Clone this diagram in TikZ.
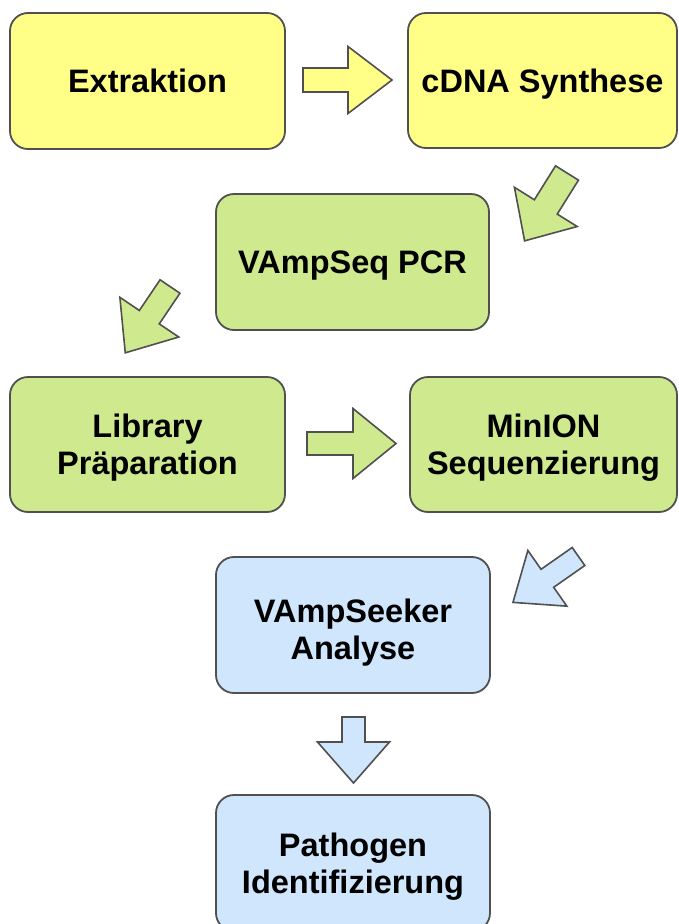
\documentclass[tikz,border=0pt]{standalone}
\usepackage{fontspec}
\setmainfont{Liberation Sans}
\definecolor{yel}{HTML}{FFFF88}
\definecolor{grn}{HTML}{CFEA8E}
\definecolor{blu}{HTML}{CFE6FD}
\definecolor{edge}{HTML}{505050}
\tikzset{
  box/.style={draw=edge, line width=1.8pt, rounded corners=18pt, align=center,
    inner sep=0pt, text depth=0pt, font=\fontsize{32.5}{37}\selectfont\bfseries},
  ybox/.style={box, fill=yel},
  gbox/.style={box, fill=grn},
  bbox/.style={box, fill=blu},
  barr/.style={draw=edge, line width=1.6pt, line join=miter}
}
% #1 tail centre, #2 angle, #3 length, #4 head length, #5 shaft half, #6 head half, #7 fill
\newcommand{\blockarr}[7]{%
  \begin{scope}[shift={(#1)}, rotate=#2]
    \draw[barr, fill=#7] (0,-#5) -- ({#3-#4},-#5) -- ({#3-#4},-#6) -- (#3,0)
      -- ({#3-#4},#6) -- ({#3-#4},#5) -- (0,#5) -- cycle;
  \end{scope}}
\begin{document}
\begin{tikzpicture}[x=1pt, y=-1pt]
  \useasboundingbox (0,0) rectangle (679,924);
  \clip (0,0) rectangle (679,924);
  \fill[white] (0,0) rectangle (679,924);
  % boxes
  \node[ybox, minimum width=275pt, minimum height=136pt] (ext) at (147.5,81) {Extraktion};
  \node[ybox, minimum width=269pt, minimum height=135pt] (cdna) at (542.5,80.5) {cDNA Synthese};
  \node[gbox, minimum width=273pt, minimum height=136pt] (pcr) at (352.5,262) {VAmpSeq PCR};
  \node[gbox, minimum width=275pt, minimum height=135pt] (lib) at (147.5,444.5) {Library\\Präparation};
  \node[gbox, minimum width=267pt, minimum height=135pt] (min) at (543.5,444.5) {MinION\\Sequenzierung};
  \node[bbox, text height=68pt, minimum width=274pt, minimum height=136pt] (vas) at (353,625) {VAmpSeeker\\Analyse};
  \node[bbox, minimum width=274pt, minimum height=136pt] (pat) at (353,863) {Pathogen\\Identifizierung};
  % arrow tails
  \coordinate (a1) at (303,80);
  \coordinate (a2) at (567,173);
  \coordinate (a3) at (170,286.5);
  \coordinate (a4) at (307,443.5);
  \coordinate (a5) at (578.5,556.5);
  \coordinate (a6) at (353.5,717);
  % block arrows
  \blockarr{a1}{0}{89}{44}{12}{33.5}{yel}
  \blockarr{a2}{-122}{80}{40}{13.5}{37}{grn}
  \blockarr{a3}{-124}{80}{43}{12}{35.5}{grn}
  \blockarr{a4}{0}{89}{43}{11.5}{35}{grn}
  \blockarr{a5}{-145}{80}{42}{11}{34}{blu}
  \blockarr{a6}{-90}{66}{41}{11.5}{36}{blu}
\end{tikzpicture}
\end{document}
